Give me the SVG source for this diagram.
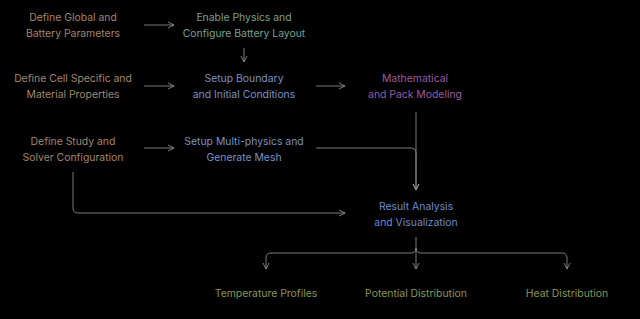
<svg xmlns="http://www.w3.org/2000/svg" width="640" height="319" viewBox="0 0 640 319">
<defs>
<style>
text{font-family:Inter,"Noto Sans","DejaVu Sans",sans-serif;font-size:10.4px;text-anchor:middle;dominant-baseline:central}
.tan{fill:#a3876a}
.grn{fill:#78a08e}
.blu{fill:#7a92c6}
.pur{fill:#9a5ca4}
.res{fill:#6c8bd0}
.olv{fill:#8c9654}
.c{fill:none;stroke:#9a9a9a;stroke-width:0.8}
</style>
<marker id="ah" viewBox="0 0 8 8" refX="7" refY="4" markerWidth="8" markerHeight="8" markerUnits="userSpaceOnUse" orient="auto">
<path d="M1,1 L7,4 L1,7" fill="none" stroke="#9a9a9a" stroke-width="0.8"/>
</marker>
</defs>
<rect width="640" height="319" fill="#000"/>
<g id="connectors">
<path class="c" d="M144,25 H174" marker-end="url(#ah)"/>
<path class="c" d="M244,48 V62" marker-end="url(#ah)"/>
<path class="c" d="M144,86 H174" marker-end="url(#ah)"/>
<path class="c" d="M316,86 H345" marker-end="url(#ah)"/>
<path class="c" d="M144,148 H174" marker-end="url(#ah)"/>
<path class="c" d="M416,112 V190" marker-end="url(#ah)"/>
<path class="c" d="M316,148 H411 Q416,148 416,153 V190" marker-end="url(#ah)"/>
<path class="c" d="M73,172 V208 Q73,213 78,213 H345" marker-end="url(#ah)"/>
<path class="c" d="M416,237 V269" marker-end="url(#ah)"/>
<path class="c" d="M416,248 Q416,253 411,253 H271 Q266,253 266,258 V269" marker-end="url(#ah)"/>
<path class="c" d="M416,248 Q416,253 421,253 H562 Q567,253 567,258 V269" marker-end="url(#ah)"/>
</g>
<g id="n1"><text class="tan" x="73" y="17">Define Global and</text><text class="tan" x="73" y="33">Battery Parameters</text></g>
<g id="n2"><text class="grn" x="244" y="17">Enable Physics and</text><text class="grn" x="244" y="33">Configure Battery Layout</text></g>
<g id="n3"><text class="tan" x="73" y="78">Define Cell Specific and</text><text class="tan" x="73" y="94">Material Properties</text></g>
<g id="n4"><text class="blu" x="244" y="78">Setup Boundary</text><text class="blu" x="244" y="94">and Initial Conditions</text></g>
<g id="n5"><text class="pur" x="415" y="78">Mathematical</text><text class="pur" x="415" y="94">and Pack Modeling</text></g>
<g id="n6"><text class="tan" x="73" y="141">Define Study and</text><text class="tan" x="73" y="157">Solver Configuration</text></g>
<g id="n7"><text class="blu" x="244" y="141">Setup Multi-physics and</text><text class="blu" x="244" y="157">Generate Mesh</text></g>
<g id="n8"><text class="res" x="416" y="206">Result Analysis</text><text class="res" x="416" y="222">and Visualization</text></g>
<g id="n9"><text class="olv" x="266" y="293">Temperature Profiles</text></g>
<g id="n10"><text class="olv" x="416" y="293">Potential Distribution</text></g>
<g id="n11"><text class="olv" x="567" y="293">Heat Distribution</text></g>
</svg>
